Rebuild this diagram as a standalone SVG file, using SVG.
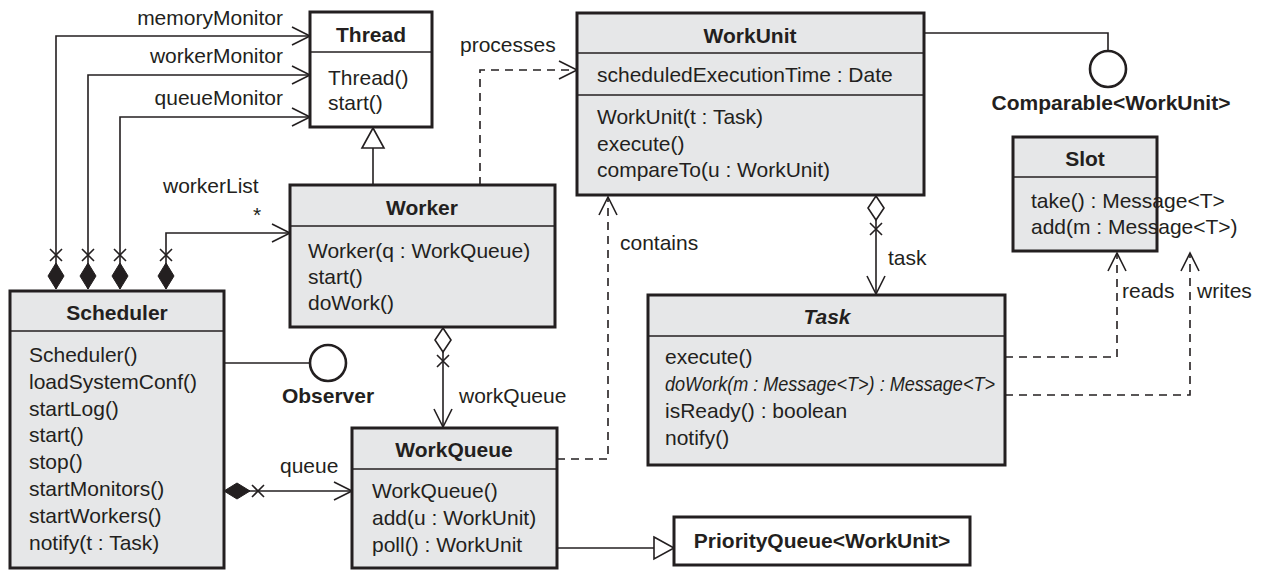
<svg xmlns="http://www.w3.org/2000/svg" width="1271" height="571" viewBox="0 0 1271 571">
  <style>
    text { font-family: "Liberation Sans", Arial, Helvetica, sans-serif; font-size: 21px; fill: #231f20; }
    .title { font-weight: bold; text-anchor: middle; }
    .ital { font-style: italic; }
    .box { fill: #e6e7e8; stroke: #231f20; stroke-width: 3; }
    .plain { fill: #ffffff; stroke: #231f20; stroke-width: 3; }
    .div { stroke: #231f20; stroke-width: 1.5; fill: none; }
    .conn { stroke: #231f20; stroke-width: 1.6; fill: none; }
    .dash { stroke-dasharray: 8 6; }
    .lolli { fill: #ffffff; stroke: #231f20; stroke-width: 2.6; }
  </style>
  <defs>
    <!-- open navigation arrowhead -->
    <marker id="arrow" markerUnits="userSpaceOnUse" orient="auto" refX="0" refY="0" markerWidth="30" markerHeight="30" viewBox="-25 -15 30 30" overflow="visible">
      <path d="M-18,-9 L0,0 L-18,9" fill="none" stroke="#231f20" stroke-width="1.6"/>
    </marker>
    <!-- hollow generalization triangle -->
    <marker id="tri" markerUnits="userSpaceOnUse" orient="auto" refX="0" refY="0" markerWidth="30" markerHeight="30" viewBox="-25 -15 30 30" overflow="visible">
      <path d="M-20,-11 L0,0 L-20,11 Z" fill="#ffffff" stroke="#231f20" stroke-width="1.6"/>
    </marker>
    <!-- composition: filled diamond plus non-navigable cross -->
    <marker id="comp" markerUnits="userSpaceOnUse" orient="auto" refX="0" refY="0" markerWidth="50" markerHeight="30" viewBox="0 -15 50 30" overflow="visible">
      <path d="M0,0 L13,-8 L26,0 L13,8 Z" fill="#231f20" stroke="#231f20" stroke-width="1"/>
      <path d="M28,-6 L40,6 M28,6 L40,-6" fill="none" stroke="#231f20" stroke-width="1.6"/>
    </marker>
    <!-- aggregation: hollow diamond plus non-navigable cross -->
    <marker id="aggr" markerUnits="userSpaceOnUse" orient="auto" refX="0" refY="0" markerWidth="50" markerHeight="30" viewBox="0 -15 50 30" overflow="visible">
      <path d="M1,0 L13,-8 L25,0 L13,8 Z" fill="#ffffff" stroke="#231f20" stroke-width="1.6"/>
      <path d="M28,-6 L40,6 M28,6 L40,-6" fill="none" stroke="#231f20" stroke-width="1.6"/>
    </marker>
  </defs>

  <rect width="1271" height="571" fill="#ffffff"/>

  <!-- connectors -->
  <g id="connectors">
    <path class="conn" d="M56,289 V36 H310" marker-start="url(#comp)" marker-end="url(#arrow)"/>
    <path class="conn" d="M88,289 V75 H310" marker-start="url(#comp)" marker-end="url(#arrow)"/>
    <path class="conn" d="M120,289 V117 H310" marker-start="url(#comp)" marker-end="url(#arrow)"/>
    <path class="conn" d="M166,289 V233 H290" marker-start="url(#comp)" marker-end="url(#arrow)"/>
    <text x="283" y="25" text-anchor="end">memoryMonitor</text>
    <text x="283" y="63" text-anchor="end">workerMonitor</text>
    <text x="283" y="105" text-anchor="end">queueMonitor</text>
    <text x="163" y="193">workerList</text>
    <text x="253" y="222">*</text>

    <!-- Worker extends Thread -->
    <path class="conn" d="M373,185 V128" marker-end="url(#tri)"/>

    <!-- Worker processes WorkUnit -->
    <path class="conn dash" d="M480,185 V70 H577" marker-end="url(#arrow)"/>
    <text x="460" y="52">processes</text>

    <!-- WorkQueue contains WorkUnit -->
    <path class="conn dash" d="M557,459 H608 V197" marker-end="url(#arrow)"/>
    <text x="620" y="250">contains</text>

    <!-- Worker to WorkQueue -->
    <path class="conn" d="M443,327 V427" marker-start="url(#aggr)" marker-end="url(#arrow)"/>
    <text x="459" y="403">workQueue</text>

    <!-- Scheduler to WorkQueue -->
    <path class="conn" d="M224,491 H352" marker-start="url(#comp)" marker-end="url(#arrow)"/>
    <text x="280" y="473">queue</text>

    <!-- WorkUnit to Task -->
    <path class="conn" d="M876,195 V294" marker-start="url(#aggr)" marker-end="url(#arrow)"/>
    <text x="888" y="265">task</text>

    <!-- Task uses Slot -->
    <path class="conn dash" d="M1005,357 H1117 V253" marker-end="url(#arrow)"/>
    <path class="conn dash" d="M1005,395 H1190 V253" marker-end="url(#arrow)"/>
    <text x="1122" y="298">reads</text>
    <text x="1197" y="298">writes</text>

    <!-- WorkQueue extends PriorityQueue -->
    <path class="conn" d="M557,548 H674" marker-end="url(#tri)"/>

    <!-- provided interfaces -->
    <path class="conn" d="M924,33 H1108 V51"/>
    <path class="conn" d="M224,363 H310"/>
  </g>

  <g id="comparable">
    <circle class="lolli" cx="1108" cy="69" r="18"/>
    <text class="title" x="1111" y="110">Comparable&lt;WorkUnit&gt;</text>
  </g>

  <g id="observer">
    <circle class="lolli" cx="328" cy="363" r="18"/>
    <text class="title" x="328" y="403">Observer</text>
  </g>

  <g id="thread">
    <rect class="plain" x="310" y="12" width="122" height="115"/>
    <line class="div" x1="310" y1="52" x2="432" y2="52"/>
    <text class="title" x="371" y="42">Thread</text>
    <text x="328" y="85">Thread()</text>
    <text x="328" y="110">start()</text>
  </g>

  <g id="workunit">
    <rect class="box" x="577" y="13" width="347" height="182"/>
    <line class="div" x1="577" y1="53" x2="924" y2="53"/>
    <line class="div" x1="577" y1="95" x2="924" y2="95"/>
    <text class="title" x="750" y="43">WorkUnit</text>
    <text x="597" y="82">scheduledExecutionTime : Date</text>
    <text x="597" y="124">WorkUnit(t : Task)</text>
    <text x="597" y="151">execute()</text>
    <text x="597" y="177">compareTo(u : WorkUnit)</text>
  </g>

  <g id="slot">
    <rect class="box" x="1013" y="137" width="144" height="114"/>
    <line class="div" x1="1013" y1="177" x2="1157" y2="177"/>
    <text class="title" x="1085" y="166">Slot</text>
    <text x="1031" y="208">take() : Message&lt;T&gt;</text>
    <text x="1031" y="234">add(m : Message&lt;T&gt;)</text>
  </g>

  <g id="worker">
    <rect class="box" x="290" y="185" width="265" height="142"/>
    <line class="div" x1="290" y1="226" x2="555" y2="226"/>
    <text class="title" x="422" y="215">Worker</text>
    <text x="308" y="258">Worker(q : WorkQueue)</text>
    <text x="308" y="284">start()</text>
    <text x="308" y="310">doWork()</text>
  </g>

  <g id="scheduler">
    <rect class="box" x="10" y="291" width="214" height="277"/>
    <line class="div" x1="10" y1="331" x2="224" y2="331"/>
    <text class="title" x="117" y="320">Scheduler</text>
    <text x="29" y="362">Scheduler()</text>
    <text x="29" y="389">loadSystemConf()</text>
    <text x="29" y="416">startLog()</text>
    <text x="29" y="442">start()</text>
    <text x="29" y="469">stop()</text>
    <text x="29" y="496">startMonitors()</text>
    <text x="29" y="523">startWorkers()</text>
    <text x="29" y="550">notify(t : Task)</text>
  </g>

  <g id="workqueue">
    <rect class="box" x="352" y="428" width="205" height="140"/>
    <line class="div" x1="352" y1="469" x2="557" y2="469"/>
    <text class="title" x="454" y="457">WorkQueue</text>
    <text x="372" y="498">WorkQueue()</text>
    <text x="372" y="525">add(u : WorkUnit)</text>
    <text x="372" y="552">poll() : WorkUnit</text>
  </g>

  <g id="task">
    <rect class="box" x="648" y="295" width="357" height="170"/>
    <line class="div" x1="648" y1="336" x2="1005" y2="336"/>
    <text class="title ital" x="827" y="324">Task</text>
    <text x="665" y="364">execute()</text>
    <text class="ital" x="665" y="391" textLength="330" lengthAdjust="spacingAndGlyphs">doWork(m : Message&lt;T&gt;) : Message&lt;T&gt;</text>
    <text x="665" y="418">isReady() : boolean</text>
    <text x="665" y="445">notify()</text>
  </g>

  <g id="priorityqueue">
    <rect class="plain" x="674" y="517" width="296" height="48"/>
    <text class="title" x="822" y="548">PriorityQueue&lt;WorkUnit&gt;</text>
  </g>
</svg>
